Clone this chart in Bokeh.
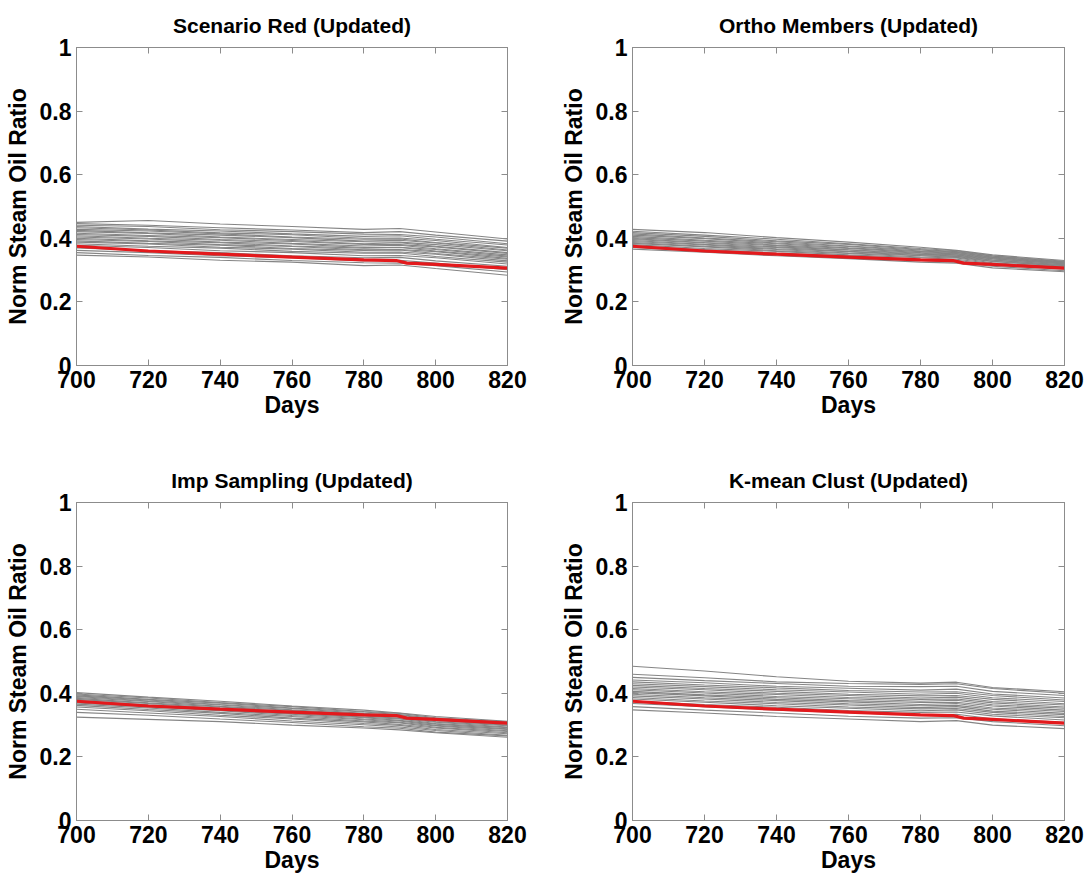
from bokeh.plotting import figure
from bokeh.models import FixedTicker, LinearAxis, Range1d
from bokeh.layouts import column, row
from bokeh.embed import file_html
from bokeh.resources import INLINE

# ---------------- data ----------------
days = [700, 720, 740, 760, 780, 790, 800, 820]
x_ticks = [700, 720, 740, 760, 780, 800, 820]
y_ticks = [0, 0.2, 0.4, 0.6, 0.8, 1]
y_labels = ["0", "0.2", "0.4", "0.6", "0.8", "1"]

truth_days = [700, 720, 740, 760, 780, 789, 792, 800, 820]
truth_ratio = [0.375, 0.360, 0.350, 0.341, 0.332, 0.330, 0.322, 0.318, 0.306]

titles = ["Scenario Red (Updated)", "Ortho Members (Updated)",
          "Imp Sampling (Updated)", "K-mean Clust (Updated)"]

scenario_red = [
    [0.450, 0.456, 0.445, 0.437, 0.428, 0.431, 0.420, 0.398],
    [0.446, 0.441, 0.433, 0.426, 0.418, 0.421, 0.410, 0.391],
    [0.441, 0.437, 0.427, 0.421, 0.413, 0.412, 0.404, 0.383],
    [0.437, 0.429, 0.423, 0.414, 0.406, 0.408, 0.397, 0.379],
    [0.433, 0.426, 0.417, 0.411, 0.400, 0.401, 0.393, 0.371],
    [0.428, 0.423, 0.414, 0.404, 0.397, 0.398, 0.387, 0.369],
    [0.425, 0.417, 0.410, 0.402, 0.391, 0.394, 0.385, 0.363],
    [0.421, 0.415, 0.404, 0.396, 0.389, 0.388, 0.380, 0.361],
    [0.416, 0.409, 0.402, 0.393, 0.383, 0.386, 0.375, 0.355],
    [0.412, 0.406, 0.396, 0.390, 0.381, 0.380, 0.373, 0.352],
    [0.408, 0.400, 0.394, 0.384, 0.376, 0.378, 0.367, 0.348],
    [0.404, 0.398, 0.388, 0.382, 0.371, 0.372, 0.365, 0.344],
    [0.400, 0.392, 0.386, 0.376, 0.369, 0.371, 0.360, 0.341],
    [0.396, 0.390, 0.380, 0.374, 0.364, 0.365, 0.358, 0.337],
    [0.392, 0.384, 0.378, 0.368, 0.362, 0.363, 0.352, 0.334],
    [0.388, 0.382, 0.372, 0.366, 0.356, 0.357, 0.350, 0.329],
    [0.383, 0.375, 0.369, 0.359, 0.353, 0.354, 0.343, 0.325],
    [0.378, 0.371, 0.361, 0.355, 0.345, 0.346, 0.339, 0.319],
    [0.370, 0.361, 0.355, 0.345, 0.339, 0.340, 0.329, 0.312],
    [0.362, 0.355, 0.345, 0.339, 0.329, 0.331, 0.322, 0.301],
    [0.355, 0.346, 0.340, 0.330, 0.323, 0.322, 0.314, 0.294],
    [0.347, 0.341, 0.331, 0.325, 0.314, 0.316, 0.305, 0.284],
]

ortho_members = [
    [0.428, 0.418, 0.402, 0.388, 0.372, 0.362, 0.348, 0.330],
    [0.422, 0.410, 0.397, 0.383, 0.368, 0.361, 0.345, 0.328],
    [0.418, 0.406, 0.392, 0.381, 0.365, 0.358, 0.344, 0.326],
    [0.414, 0.401, 0.389, 0.376, 0.363, 0.356, 0.341, 0.325],
    [0.410, 0.399, 0.385, 0.374, 0.360, 0.355, 0.340, 0.323],
    [0.406, 0.394, 0.383, 0.370, 0.358, 0.352, 0.338, 0.322],
    [0.402, 0.391, 0.379, 0.368, 0.355, 0.351, 0.336, 0.320],
    [0.399, 0.387, 0.377, 0.364, 0.353, 0.348, 0.335, 0.319],
    [0.396, 0.385, 0.373, 0.363, 0.350, 0.347, 0.332, 0.317],
    [0.393, 0.381, 0.371, 0.359, 0.349, 0.344, 0.331, 0.316],
    [0.390, 0.379, 0.367, 0.358, 0.346, 0.343, 0.328, 0.314],
    [0.387, 0.375, 0.365, 0.354, 0.345, 0.340, 0.327, 0.312],
    [0.384, 0.373, 0.361, 0.352, 0.341, 0.338, 0.323, 0.310],
    [0.380, 0.368, 0.359, 0.348, 0.339, 0.334, 0.321, 0.307],
    [0.376, 0.365, 0.354, 0.345, 0.334, 0.331, 0.316, 0.303],
    [0.371, 0.359, 0.350, 0.339, 0.330, 0.325, 0.312, 0.298],
    [0.366, 0.356, 0.345, 0.336, 0.325, 0.322, 0.307, 0.295],
]

imp_sampling = [
    [0.402, 0.388, 0.375, 0.360, 0.347, 0.338, 0.327, 0.312],
    [0.398, 0.385, 0.371, 0.358, 0.343, 0.337, 0.323, 0.310],
    [0.395, 0.381, 0.369, 0.354, 0.341, 0.333, 0.321, 0.306],
    [0.392, 0.379, 0.365, 0.352, 0.337, 0.331, 0.317, 0.304],
    [0.390, 0.376, 0.363, 0.348, 0.335, 0.327, 0.315, 0.300],
    [0.387, 0.374, 0.359, 0.346, 0.331, 0.325, 0.311, 0.298],
    [0.384, 0.370, 0.357, 0.342, 0.329, 0.321, 0.309, 0.294],
    [0.381, 0.368, 0.353, 0.340, 0.325, 0.319, 0.305, 0.292],
    [0.378, 0.364, 0.351, 0.336, 0.323, 0.315, 0.303, 0.288],
    [0.374, 0.361, 0.347, 0.334, 0.319, 0.313, 0.299, 0.286],
    [0.370, 0.357, 0.345, 0.330, 0.317, 0.309, 0.297, 0.282],
    [0.366, 0.354, 0.340, 0.327, 0.313, 0.307, 0.293, 0.280],
    [0.362, 0.349, 0.337, 0.322, 0.310, 0.302, 0.291, 0.276],
    [0.357, 0.345, 0.331, 0.319, 0.305, 0.299, 0.286, 0.273],
    [0.350, 0.338, 0.327, 0.313, 0.301, 0.294, 0.283, 0.268],
    [0.340, 0.331, 0.319, 0.308, 0.295, 0.290, 0.278, 0.266],
    [0.325, 0.318, 0.311, 0.300, 0.291, 0.285, 0.276, 0.262],
]

kmean_clust = [
    [0.485, 0.470, 0.452, 0.438, 0.432, 0.435, 0.418, 0.405],
    [0.460, 0.449, 0.436, 0.431, 0.428, 0.430, 0.415, 0.400],
    [0.450, 0.440, 0.431, 0.422, 0.421, 0.422, 0.406, 0.393],
    [0.442, 0.433, 0.422, 0.416, 0.410, 0.413, 0.398, 0.385],
    [0.436, 0.426, 0.417, 0.409, 0.404, 0.405, 0.393, 0.379],
    [0.430, 0.421, 0.411, 0.404, 0.397, 0.400, 0.386, 0.374],
    [0.425, 0.415, 0.406, 0.397, 0.392, 0.393, 0.381, 0.367],
    [0.420, 0.411, 0.400, 0.393, 0.385, 0.388, 0.374, 0.363],
    [0.415, 0.405, 0.396, 0.387, 0.381, 0.382, 0.370, 0.357],
    [0.411, 0.401, 0.390, 0.383, 0.375, 0.378, 0.364, 0.353],
    [0.406, 0.395, 0.386, 0.377, 0.371, 0.372, 0.360, 0.347],
    [0.402, 0.392, 0.381, 0.373, 0.365, 0.368, 0.354, 0.343],
    [0.397, 0.386, 0.377, 0.367, 0.361, 0.362, 0.350, 0.337],
    [0.392, 0.382, 0.371, 0.363, 0.355, 0.358, 0.344, 0.333],
    [0.387, 0.376, 0.367, 0.357, 0.351, 0.352, 0.340, 0.327],
    [0.382, 0.372, 0.361, 0.353, 0.345, 0.348, 0.334, 0.323],
    [0.376, 0.365, 0.356, 0.346, 0.340, 0.341, 0.329, 0.316],
    [0.368, 0.358, 0.347, 0.339, 0.331, 0.334, 0.320, 0.309],
    [0.358, 0.347, 0.338, 0.328, 0.322, 0.323, 0.311, 0.298],
    [0.348, 0.338, 0.327, 0.319, 0.311, 0.314, 0.300, 0.289],
]

members = [scenario_red, ortho_members, imp_sampling, kmean_clust]

# ---------------- styling ----------------
FONT = "Liberation Sans"
GRAY = "#858585"
AXIS_GRAY = "#8c8c8c"
RED = "#e3191c"


def style_axis(ax, show_labels=True):
    ax.axis_line_color = AXIS_GRAY
    ax.major_tick_line_color = AXIS_GRAY
    ax.major_tick_in = 6
    ax.major_tick_out = 0
    ax.minor_tick_line_color = None
    ax.major_label_text_font = FONT
    ax.major_label_text_font_style = "bold"
    if show_labels:
        ax.major_label_text_color = "black"
        ax.major_label_text_font_size = "23px"
    else:
        ax.major_label_text_color = None
        ax.major_label_text_font_size = "6px"
        ax.major_label_standoff = 0


def make_panel(title, ens, w, h, left, right, top, bottom):
    p = figure(width=w, height=h, x_range=Range1d(700, 820), y_range=Range1d(0, 1),
               output_backend="svg", toolbar_location=None, title=title,
               min_border_left=left, min_border_right=right,
               min_border_top=top, min_border_bottom=bottom)
    p.xgrid.visible = False
    p.ygrid.visible = False
    p.outline_line_color = AXIS_GRAY
    p.title.text_font = FONT
    p.title.text_font_style = "bold"
    p.title.text_font_size = "21px"
    p.title.align = "center"
    p.title.text_color = "black"
    p.title.standoff = 22

    for m in ens:
        p.line(days, m, line_color=GRAY, line_width=1.1)
    p.line(truth_days, truth_ratio, line_color=RED, line_width=3.2)

    p.xaxis.ticker = FixedTicker(ticks=x_ticks)
    p.yaxis.ticker = FixedTicker(ticks=y_ticks)
    p.yaxis.major_label_overrides = {t: l for t, l in zip(y_ticks, y_labels)}
    for ax in p.xaxis + p.yaxis:
        style_axis(ax)
        ax.axis_label_text_font = FONT
        ax.axis_label_text_font_style = "bold"
        ax.axis_label_text_font_size = "23px"
        ax.axis_label_text_color = "black"
    p.xaxis.axis_label = "Days"
    p.yaxis.axis_label = "Norm Steam Oil Ratio"
    p.xaxis.major_label_standoff = 5
    p.xaxis.axis_label_standoff = 1
    p.yaxis.major_label_standoff = 5
    p.yaxis.axis_label_standoff = 6

    ra = LinearAxis(ticker=FixedTicker(ticks=y_ticks))
    style_axis(ra, show_labels=False)
    p.add_layout(ra, "right")
    ta = LinearAxis(ticker=FixedTicker(ticks=x_ticks))
    style_axis(ta, show_labels=False)
    p.add_layout(ta, "above")
    return p


p1 = make_panel(titles[0], members[0], 544, 437, 76, 37, 47, 72)
p2 = make_panel(titles[1], members[1], 544, 437, 88, 24, 47, 72)
p3 = make_panel(titles[2], members[2], 544, 438, 76, 37, 65, 55)
p4 = make_panel(titles[3], members[3], 544, 438, 88, 24, 65, 55)

layout = column(row(p1, p2), row(p3, p4))
open("out.html", "w").write(file_html(layout, INLINE))
